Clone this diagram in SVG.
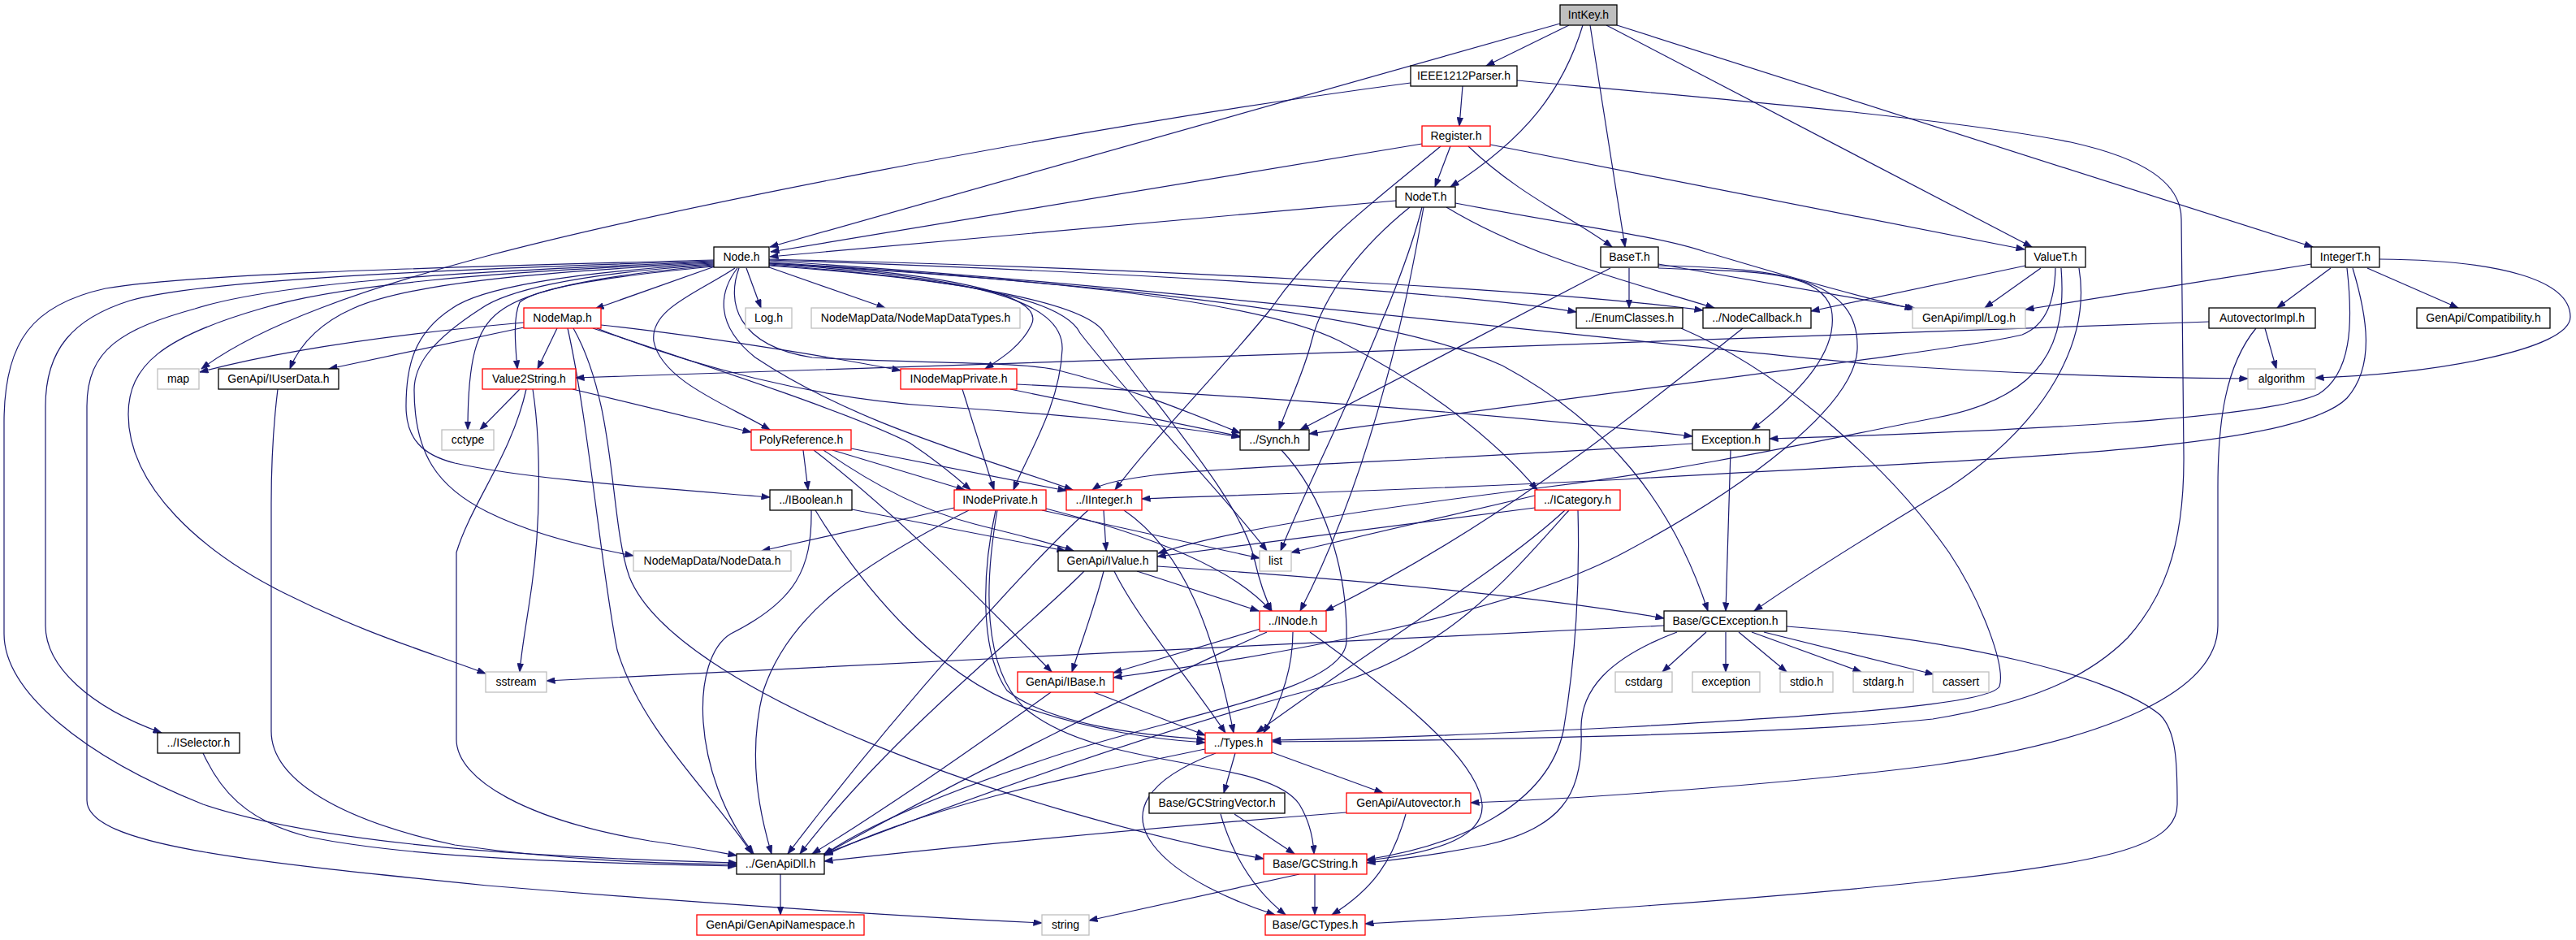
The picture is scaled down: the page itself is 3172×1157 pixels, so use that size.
<svg xmlns="http://www.w3.org/2000/svg" width="3172" height="1157" viewBox="0 0 3172 1157">
<style>
.node rect{fill:#ffffff;stroke:#000000;stroke-width:1.3}
.node.red rect{stroke:#ff0000}
.node.ext rect{stroke:#bfbfbf}
.node.root rect{fill:#bfbfbf}
.node text{font-family:"Liberation Sans",Arial,Helvetica,sans-serif;font-size:14px;text-anchor:middle;fill:#000000}
#edges path{fill:none;stroke:#191970;stroke-width:1.2;marker-end:url(#arrow)}
</style>
<defs>
<marker id="arrow" viewBox="0 0 11 8" refX="10.5" refY="4" markerWidth="11" markerHeight="8" markerUnits="userSpaceOnUse" orient="auto">
<path d="M0,0 L11,4 L0,8 Z" fill="#191970" stroke="#191970" stroke-width="0.5"/>
</marker>
</defs>
<rect x="0" y="0" width="3172" height="1157" fill="#ffffff"/>
<g id="edges">
<path d="M1932,31 L1830,81"/>
<path d="M1921,29 L948,304"/>
<path d="M1949,31 C1925,110 1880,170 1786,230"/>
<path d="M1958,31 L2001,304"/>
<path d="M1978,31 L2502,304"/>
<path d="M1991,31 L2848,304"/>
<path d="M1801,106 L1797,155"/>
<path d="M1737,102 C1300,160 800,262 600,315 C450,355 320,400 248,454"/>
<path d="M1868,99 C2100,120 2400,145 2550,175 C2640,195 2686,225 2686,270 L2689,560 C2690,680 2660,740 2620,785 C2570,835 2500,865 2380,885 C2200,905 1750,912 1567,913"/>
<path d="M1751,177 L949,310"/>
<path d="M1786,180 L1767,230"/>
<path d="M1808,180 C1870,240 1940,270 1985,304"/>
<path d="M1835,178 L2493,307"/>
<path d="M1774,180 C1690,250 1620,300 1565,380 C1500,460 1420,540 1373,603"/>
<path d="M1719,247 L948,316"/>
<path d="M1736,255 C1680,300 1630,360 1615,420 C1605,460 1585,500 1575,529"/>
<path d="M1751,255 C1735,320 1700,400 1670,470 C1640,540 1600,620 1577,678"/>
<path d="M1753,255 C1740,330 1700,560 1601,752"/>
<path d="M1781,255 C1880,315 2000,345 2111,379"/>
<path d="M1792,250 C1950,280 2040,290 2100,310 C2200,340 2300,368 2356,380"/>
<path d="M2006,330 L2006,379"/>
<path d="M2042,325 L2359,380"/>
<path d="M1983,330 L1601,529"/>
<path d="M2042,330 C2150,335 2240,330 2255,380 C2265,430 2220,480 2157,529"/>
<path d="M2042,327 C2200,330 2290,345 2287,430 C2284,500 2150,600 2000,680 C1850,760 1550,810 1371,834"/>
<path d="M2494,327 L2230,383"/>
<path d="M2513,330 L2444,379"/>
<path d="M2531,330 C2530,370 2520,400 2490,412 C2420,430 2000,480 1612,534"/>
<path d="M2538,330 C2545,420 2520,490 2380,515 C2250,540 2100,575 1900,600 C1700,625 1520,650 1426,681"/>
<path d="M2560,330 C2575,420 2520,520 2400,600 C2300,660 2220,710 2160,752"/>
<path d="M2846,325 L2494,381"/>
<path d="M2870,330 L2804,379"/>
<path d="M2915,330 L3027,379"/>
<path d="M2930,319 C3080,320 3165,345 3165,390 C3165,430 3000,460 2851,465"/>
<path d="M2890,330 C2898,400 2895,460 2855,485 C2790,515 2500,530 2179,540"/>
<path d="M2897,330 C2915,390 2925,450 2890,490 C2820,560 2400,565 2000,590 C1700,605 1500,610 1406,614"/>
<path d="M2720,396 C2200,415 1200,450 709,465"/>
<path d="M2789,404 L2803,454"/>
<path d="M2778,404 C2740,450 2731,520 2731,600 L2731,770 C2731,850 2600,910 2380,942 C2200,965 1950,983 1811,988"/>
<path d="M2070,404 C2200,460 2330,580 2400,680 C2440,740 2470,820 2462,845 C2450,865 2300,878 2000,895 C1800,905 1650,910 1567,911"/>
<path d="M2146,404 C2000,520 1840,650 1632,752"/>
<path d="M2131,554 L2125,752"/>
<path d="M2084,546 C1800,565 1500,575 1420,585 C1380,590 1355,596 1345,603"/>
<path d="M2101,778 L2047,827"/>
<path d="M2125,778 L2125,827"/>
<path d="M2141,778 L2200,827"/>
<path d="M2157,778 L2292,827"/>
<path d="M2172,778 L2381,830"/>
<path d="M2049,770 C1600,790 1000,825 673,838"/>
<path d="M2065,778 C1980,810 1945,850 1947,900 C1950,980 1920,1020 1830,1040 C1770,1052 1720,1058 1683,1062"/>
<path d="M2200,771 C2400,785 2600,830 2660,880 C2680,900 2681,940 2681,990 C2681,1040 2600,1060 2400,1082 C2200,1105 1850,1128 1681,1137"/>
<path d="M1425,697 C1700,715 1900,735 2049,761"/>
<path d="M1400,703 L1550,752"/>
<path d="M1359,703 C1350,740 1335,780 1320,827"/>
<path d="M1372,703 C1400,760 1460,830 1509,902"/>
<path d="M1335,703 C1270,770 1100,900 985,1051"/>
<path d="M1359,628 L1362,678"/>
<path d="M1340,628 C1270,690 1100,880 970,1051"/>
<path d="M1384,628 C1460,680 1495,780 1519,902"/>
<path d="M1175,625 L938,678"/>
<path d="M1193,628 C1050,700 970,760 940,850 C920,930 935,1000 950,1051"/>
<path d="M1226,628 C1210,700 1205,800 1240,850 C1290,890 1400,905 1484,910"/>
<path d="M1228,628 C1212,720 1210,820 1260,870 C1350,950 1560,930 1600,990 C1612,1010 1617,1030 1618,1051"/>
<path d="M1283,628 L1551,687"/>
<path d="M1288,626 C1420,660 1520,700 1565,752"/>
<path d="M989,554 L995,603"/>
<path d="M1025,554 L1188,603"/>
<path d="M1048,552 L1313,604"/>
<path d="M1014,554 C1080,600 1140,630 1200,645 C1250,658 1295,668 1322,678"/>
<path d="M1002,554 C1100,630 1190,720 1295,827"/>
<path d="M1049,627 L1312,678"/>
<path d="M999,628 C1000,700 980,740 900,780 C850,810 850,950 928,1051"/>
<path d="M1004,628 C1060,720 1150,830 1260,870 C1350,900 1420,910 1484,914"/>
<path d="M1185,479 L1224,603"/>
<path d="M1252,473 C1600,490 1900,515 2084,537"/>
<path d="M1244,479 L1527,537"/>
<path d="M645,397 C500,410 350,430 246,458"/>
<path d="M645,403 L405,454"/>
<path d="M686,404 L662,454"/>
<path d="M740,400 C850,412 1000,435 1109,456"/>
<path d="M735,404 C850,450 1000,490 1150,500 C1300,510 1420,520 1527,538"/>
<path d="M730,404 C900,460 1050,510 1120,545 C1150,565 1175,585 1195,603"/>
<path d="M706,404 C760,500 750,640 775,710 C830,850 1250,1000 1556,1057"/>
<path d="M699,404 C725,520 740,700 760,800 C790,900 880,980 926,1051"/>
<path d="M880,328 L733,380"/>
<path d="M919,330 L937,379"/>
<path d="M947,329 L1090,379"/>
<path d="M879,324 C650,335 500,350 434,380 C400,395 370,420 357,454"/>
<path d="M879,328 C750,340 660,355 640,372 C632,390 634,420 637,454"/>
<path d="M879,327 C720,340 650,360 620,380 C590,400 576,430 576,529"/>
<path d="M879,326 C700,337 620,360 592,380 C530,420 510,450 510,480 C510,560 540,600 600,630 C660,660 730,675 780,684"/>
<path d="M879,325 C700,335 590,355 556,380 C510,410 500,450 500,500 C500,540 520,560 560,570 C650,590 800,600 948,612"/>
<path d="M879,323 C600,335 420,350 321,380 C200,415 158,450 158,510 C158,600 250,680 350,730 C450,780 520,800 598,829"/>
<path d="M879,322 C600,333 350,345 240,380 C150,405 107,430 107,500 L107,985 C107,1040 300,1060 600,1090 C900,1115 1150,1130 1283,1136"/>
<path d="M879,321 C600,330 260,342 160,370 C90,392 56,430 56,500 L56,770 C56,820 110,870 199,902"/>
<path d="M879,320 C600,328 250,335 130,355 C40,375 5,420 5,520 L5,780 C5,850 100,930 250,990 C400,1040 650,1055 907,1062"/>
<path d="M905,330 C860,360 800,380 805,420 C815,470 900,500 948,529"/>
<path d="M908,330 C885,360 880,400 930,440 C1050,520 1200,560 1321,603"/>
<path d="M910,330 C895,370 905,425 1000,440 C1150,448 1250,445 1300,455 C1400,480 1470,510 1527,533"/>
<path d="M947,324 C1150,335 1290,360 1270,400 C1258,425 1235,440 1213,454"/>
<path d="M947,325 C1200,340 1310,370 1308,430 C1305,500 1265,560 1248,603"/>
<path d="M947,326 C1200,345 1310,370 1330,410 C1400,500 1500,600 1560,678"/>
<path d="M947,327 C1200,345 1340,375 1360,410 C1440,520 1530,620 1545,690 C1552,720 1560,740 1566,752"/>
<path d="M947,319 C1400,330 1900,355 2097,382"/>
<path d="M947,320 C1400,335 1800,360 1941,384"/>
<path d="M947,321 C1400,350 1900,410 2300,448 C2500,462 2650,465 2768,466"/>
<path d="M947,323 C1300,345 1550,370 1650,420 C1750,470 1840,540 1893,603"/>
<path d="M947,324 C1300,345 1700,380 1850,450 C1980,520 2060,620 2103,752"/>
<path d="M640,479 L591,529"/>
<path d="M648,479 C630,560 580,620 562,680 L562,910 C562,960 650,1010 800,1035 C850,1042 880,1048 907,1053"/>
<path d="M656,479 C667,550 665,650 655,720 C648,770 642,800 640,827"/>
<path d="M705,479 L925,532"/>
<path d="M342,479 C337,520 334,560 334,620 L334,900 C334,960 420,1010 560,1040 C700,1060 820,1063 907,1064"/>
<path d="M250,927 C270,970 300,1010 380,1030 C500,1055 700,1062 907,1066"/>
<path d="M961,1076 L961,1126"/>
<path d="M1521,927 L1507,976"/>
<path d="M1566,926 L1703,976"/>
<path d="M1497,927 C1410,960 1390,1000 1420,1040 C1450,1080 1520,1110 1570,1126"/>
<path d="M1484,922 C1300,960 1150,990 1015,1053"/>
<path d="M1347,852 L1484,905"/>
<path d="M1294,852 C1200,920 1100,990 1000,1051"/>
<path d="M1552,774 L1371,828"/>
<path d="M1560,778 C1420,840 1200,950 1014,1052"/>
<path d="M1592,778 C1592,820 1580,860 1556,902"/>
<path d="M1613,778 C1700,840 1820,930 1825,990 C1828,1030 1770,1050 1683,1059"/>
<path d="M1890,625 L1425,685"/>
<path d="M1890,610 L1590,680"/>
<path d="M1927,628 C1850,700 1700,790 1547,902"/>
<path d="M1932,628 C1850,720 1780,800 1650,840 C1450,890 1200,980 1015,1051"/>
<path d="M1943,628 C1945,700 1942,800 1925,900 C1905,990 1800,1040 1683,1058"/>
<path d="M1520,1002 L1594,1051"/>
<path d="M1503,1002 C1520,1060 1550,1100 1583,1126"/>
<path d="M1658,1000 C1400,1020 1150,1045 1015,1060"/>
<path d="M1731,1002 C1715,1060 1690,1095 1640,1126"/>
<path d="M1600,1076 L1341,1133"/>
<path d="M1619,1076 L1619,1126"/>
<path d="M1578,554 C1630,610 1660,700 1658,790 C1655,850 1450,880 1300,930 C1150,980 1060,1020 1015,1052"/>
</g>
<g id="n-intkey" class="node root"><rect x="1921" y="6" width="70" height="25"/><text x="1956" y="23">IntKey.h</text></g>
<g id="n-ieee1212parser" class="node"><rect x="1737" y="81" width="131" height="25"/><text x="1802.5" y="98">IEEE1212Parser.h</text></g>
<g id="n-register" class="node red"><rect x="1751" y="155" width="84" height="25"/><text x="1793" y="172">Register.h</text></g>
<g id="n-nodet" class="node"><rect x="1719" y="230" width="73" height="25"/><text x="1755.5" y="247">NodeT.h</text></g>
<g id="n-node" class="node"><rect x="879" y="304" width="68" height="25"/><text x="913" y="321">Node.h</text></g>
<g id="n-baset" class="node"><rect x="1971" y="304" width="71" height="25"/><text x="2006.5" y="321">BaseT.h</text></g>
<g id="n-valuet" class="node"><rect x="2494" y="304" width="74" height="25"/><text x="2531" y="321">ValueT.h</text></g>
<g id="n-integert" class="node"><rect x="2846" y="304" width="84" height="25"/><text x="2888" y="321">IntegerT.h</text></g>
<g id="n-nodemap" class="node red"><rect x="645" y="379" width="95" height="25"/><text x="692.5" y="396">NodeMap.h</text></g>
<g id="n-log" class="node ext"><rect x="918" y="379" width="57" height="25"/><text x="946.5" y="396">Log.h</text></g>
<g id="n-nodemapdatatypes" class="node ext"><rect x="999" y="379" width="257" height="25"/><text x="1127.5" y="396">NodeMapData/NodeMapDataTypes.h</text></g>
<g id="n-enumclasses" class="node"><rect x="1941" y="379" width="131" height="25"/><text x="2006.5" y="396">../EnumClasses.h</text></g>
<g id="n-nodecallback" class="node"><rect x="2097" y="379" width="133" height="25"/><text x="2163.5" y="396">../NodeCallback.h</text></g>
<g id="n-impl-log" class="node ext"><rect x="2355" y="379" width="139" height="25"/><text x="2424.5" y="396">GenApi/impl/Log.h</text></g>
<g id="n-autovectorimpl" class="node"><rect x="2720" y="379" width="131" height="25"/><text x="2785.5" y="396">AutovectorImpl.h</text></g>
<g id="n-compatibility" class="node"><rect x="2976" y="379" width="164" height="25"/><text x="3058" y="396">GenApi/Compatibility.h</text></g>
<g id="n-map" class="node ext"><rect x="194" y="454" width="51" height="25"/><text x="219.5" y="471">map</text></g>
<g id="n-iuserdata" class="node"><rect x="269" y="454" width="148" height="25"/><text x="343" y="471">GenApi/IUserData.h</text></g>
<g id="n-value2string" class="node red"><rect x="594" y="454" width="115" height="25"/><text x="651.5" y="471">Value2String.h</text></g>
<g id="n-inodemapprivate" class="node red"><rect x="1109" y="454" width="143" height="25"/><text x="1180.5" y="471">INodeMapPrivate.h</text></g>
<g id="n-algorithm" class="node ext"><rect x="2768" y="454" width="83" height="25"/><text x="2809.5" y="471">algorithm</text></g>
<g id="n-cctype" class="node ext"><rect x="544" y="529" width="64" height="25"/><text x="576" y="546">cctype</text></g>
<g id="n-polyreference" class="node red"><rect x="925" y="529" width="123" height="25"/><text x="986.5" y="546">PolyReference.h</text></g>
<g id="n-synch" class="node"><rect x="1527" y="529" width="85" height="25"/><text x="1569.5" y="546">../Synch.h</text></g>
<g id="n-exception-h" class="node"><rect x="2084" y="529" width="95" height="25"/><text x="2131.5" y="546">Exception.h</text></g>
<g id="n-iboolean" class="node"><rect x="948" y="603" width="101" height="25"/><text x="998.5" y="620">../IBoolean.h</text></g>
<g id="n-inodeprivate" class="node red"><rect x="1175" y="603" width="113" height="25"/><text x="1231.5" y="620">INodePrivate.h</text></g>
<g id="n-iinteger" class="node red"><rect x="1313" y="603" width="93" height="25"/><text x="1359.5" y="620">../IInteger.h</text></g>
<g id="n-icategory" class="node red"><rect x="1890" y="603" width="105" height="25"/><text x="1942.5" y="620">../ICategory.h</text></g>
<g id="n-nodedata" class="node ext"><rect x="780" y="678" width="194" height="25"/><text x="877" y="695">NodeMapData/NodeData.h</text></g>
<g id="n-ivalue" class="node"><rect x="1303" y="678" width="122" height="25"/><text x="1364" y="695">GenApi/IValue.h</text></g>
<g id="n-list" class="node ext"><rect x="1551" y="678" width="39" height="25"/><text x="1570.5" y="695">list</text></g>
<g id="n-inode" class="node red"><rect x="1551" y="752" width="82" height="25"/><text x="1592" y="769">../INode.h</text></g>
<g id="n-gcexception" class="node"><rect x="2049" y="752" width="151" height="25"/><text x="2124.5" y="769">Base/GCException.h</text></g>
<g id="n-sstream" class="node ext"><rect x="598" y="827" width="75" height="25"/><text x="635.5" y="844">sstream</text></g>
<g id="n-ibase" class="node red"><rect x="1253" y="827" width="118" height="25"/><text x="1312" y="844">GenApi/IBase.h</text></g>
<g id="n-cstdarg" class="node ext"><rect x="1989" y="827" width="70" height="25"/><text x="2024" y="844">cstdarg</text></g>
<g id="n-exception" class="node ext"><rect x="2084" y="827" width="83" height="25"/><text x="2125.5" y="844">exception</text></g>
<g id="n-stdio" class="node ext"><rect x="2192" y="827" width="65" height="25"/><text x="2224.5" y="844">stdio.h</text></g>
<g id="n-stdarg" class="node ext"><rect x="2282" y="827" width="74" height="25"/><text x="2319" y="844">stdarg.h</text></g>
<g id="n-cassert" class="node ext"><rect x="2380" y="827" width="69" height="25"/><text x="2414.5" y="844">cassert</text></g>
<g id="n-iselector" class="node"><rect x="194" y="902" width="101" height="25"/><text x="244.5" y="919">../ISelector.h</text></g>
<g id="n-types" class="node red"><rect x="1484" y="902" width="82" height="25"/><text x="1525" y="919">../Types.h</text></g>
<g id="n-gcstringvector" class="node"><rect x="1415" y="976" width="167" height="25"/><text x="1498.5" y="993">Base/GCStringVector.h</text></g>
<g id="n-autovector" class="node red"><rect x="1658" y="976" width="153" height="25"/><text x="1734.5" y="993">GenApi/Autovector.h</text></g>
<g id="n-genapidll" class="node"><rect x="907" y="1051" width="108" height="25"/><text x="961" y="1068">../GenApiDll.h</text></g>
<g id="n-gcstring" class="node red"><rect x="1556" y="1051" width="127" height="25"/><text x="1619.5" y="1068">Base/GCString.h</text></g>
<g id="n-genapinamespace" class="node red"><rect x="858" y="1126" width="206" height="25"/><text x="961" y="1143">GenApi/GenApiNamespace.h</text></g>
<g id="n-string" class="node ext"><rect x="1283" y="1126" width="58" height="25"/><text x="1312" y="1143">string</text></g>
<g id="n-gctypes" class="node red"><rect x="1558" y="1126" width="123" height="25"/><text x="1619.5" y="1143">Base/GCTypes.h</text></g>
</svg>
